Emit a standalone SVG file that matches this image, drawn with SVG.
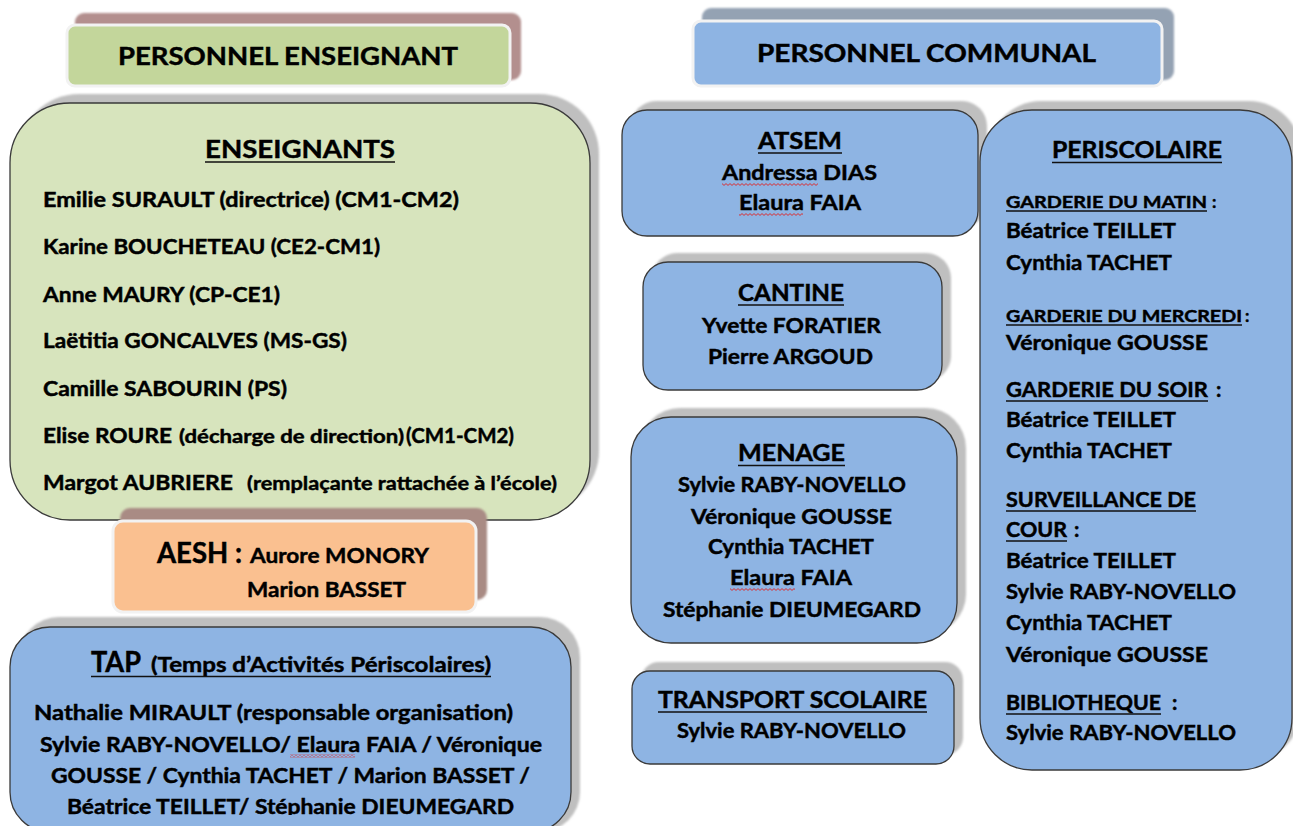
<svg xmlns="http://www.w3.org/2000/svg" width="1293" height="826" viewBox="0 0 1293 826">
<style>
.t{font-family:Lato,"Liberation Sans",sans-serif;font-weight:bold;fill:#000;stroke:#000;stroke-width:0.45;paint-order:stroke}
.s28{font-size:28px}.s25{font-size:25px}.s23{font-size:23px}.s21{font-size:21px}.s20{font-size:20.5px}.s19{font-size:19px}.s17{font-size:17px}
.ul{stroke:#111;stroke-width:1.6}
.box{stroke:#3a3a3a;stroke-width:1.3}
.blue{fill:#8eb4e3}
.gsh{fill:#bfbfbf}
.hb{stroke:#f2f2f2;stroke-width:3}
</style>
<defs>
<filter id="sb" x="-5%" y="-5%" width="110%" height="110%"><feGaussianBlur stdDeviation="1.2"/></filter>
<pattern id="sq" width="4" height="3" patternUnits="userSpaceOnUse"><path d="M0 2.4 L2 0.6 L4 2.4" fill="none" stroke="#e02020" stroke-width="0.9"/></pattern>
<clipPath id="tapclip"><rect x="0" y="600" width="620" height="215"/></clipPath>
</defs>
<rect width="1293" height="826" fill="#fff"/>

<g id="connectors"/>

<g id="personnel-enseignant">
<rect x="75" y="13" width="446" height="67" rx="9" fill="#b38f8e" filter="url(#sb)"/>
<rect x="67" y="25" width="443" height="61" rx="8" fill="#c3d69b" class="hb"/>
<text class="t s25" x="118" y="65" textLength="340" lengthAdjust="spacingAndGlyphs">PERSONNEL ENSEIGNANT</text>
</g>

<g id="personnel-communal">
<rect x="702" y="8" width="472" height="72" rx="9" fill="#94a2b3" filter="url(#sb)"/>
<rect x="693" y="21" width="469" height="65" rx="8" fill="#8eb4e3" class="hb"/>
<text class="t s25" x="757" y="62" textLength="339" lengthAdjust="spacingAndGlyphs">PERSONNEL COMMUNAL</text>
</g>

<g id="enseignants">
<rect x="19" y="94" width="580" height="417" rx="60" class="gsh" filter="url(#sb)"/>
<rect x="10" y="103" width="580" height="417" rx="60" fill="#d7e4bd" class="box"/>
<text class="t s25" x="205" y="158" textLength="190" lengthAdjust="spacingAndGlyphs">ENSEIGNANTS</text>
<line class="ul" x1="205" y1="162" x2="395" y2="162"/>
<text class="t s21" x="43" y="207" textLength="416" lengthAdjust="spacingAndGlyphs">Emilie SURAULT (directrice) (CM1-CM2)</text>
<text class="t s21" x="43" y="254" textLength="337" lengthAdjust="spacingAndGlyphs">Karine BOUCHETEAU  (CE2-CM1)</text>
<text class="t s21" x="43" y="302" textLength="237" lengthAdjust="spacingAndGlyphs">Anne MAURY (CP-CE1)</text>
<text class="t s21" x="43" y="348" textLength="304" lengthAdjust="spacingAndGlyphs">Laëtitia  GONCALVES (MS-GS)</text>
<text class="t s21" x="43" y="396" textLength="244" lengthAdjust="spacingAndGlyphs">Camille SABOURIN (PS)</text>
<text class="t s21" x="43" y="443" textLength="129" lengthAdjust="spacingAndGlyphs">Elise  ROURE</text>
<text class="t s19" x="179" y="443" textLength="225" lengthAdjust="spacingAndGlyphs">(décharge de direction)</text>
<text class="t s21" x="406" y="443" textLength="108" lengthAdjust="spacingAndGlyphs">(CM1-CM2)</text>
<text class="t s21" x="43" y="490" textLength="190" lengthAdjust="spacingAndGlyphs">Margot  AUBRIERE</text>
<text class="t s19" x="247" y="490" textLength="310" lengthAdjust="spacingAndGlyphs">(remplaçante rattachée à l’école)</text>
</g>

<g id="aesh">
<rect x="120" y="508" width="367" height="92" rx="10" fill="#a98b84" filter="url(#sb)"/>
<rect x="113" y="521" width="363" height="91" rx="10" fill="#fac090" class="hb"/>
<text class="t s28" x="157" y="563" textLength="85" lengthAdjust="spacingAndGlyphs">AESH :</text>
<text class="t s21" x="250" y="563" textLength="179" lengthAdjust="spacingAndGlyphs">Aurore MONORY</text>
<text class="t s21" x="247" y="597" textLength="159" lengthAdjust="spacingAndGlyphs">Marion BASSET</text>
</g>

<g id="tap">
<rect x="19" y="617" width="561" height="215" rx="40" class="gsh" filter="url(#sb)"/>
<rect x="10" y="627" width="561" height="205" rx="40" class="box blue"/>
<text class="t s28" x="91" y="672" textLength="50" lengthAdjust="spacingAndGlyphs">TAP</text>
<text class="t s20" x="151" y="672" textLength="340" lengthAdjust="spacingAndGlyphs">(Temps d’Activités Périscolaires)</text>
<line class="ul" x1="91" y1="676.5" x2="491" y2="676.5"/>
<text class="t s20" x="34" y="720" textLength="479" lengthAdjust="spacingAndGlyphs">Nathalie  MIRAULT (responsable  organisation)</text>
<text class="t s20" x="40" y="752" textLength="502" lengthAdjust="spacingAndGlyphs">Sylvie RABY-NOVELLO/  Elaura FAIA / Véronique</text>
<rect x="290" y="754.5" width="65" height="3" fill="url(#sq)"/>
<text class="t s20" x="51" y="783" textLength="479" lengthAdjust="spacingAndGlyphs">GOUSSE / Cynthia  TACHET / Marion BASSET /</text>
<text class="t s20" x="67" y="814" textLength="447" lengthAdjust="spacingAndGlyphs" clip-path="url(#tapclip)">Béatrice TEILLET/ Stéphanie  DIEUMEGARD</text>
</g>

<g id="atsem">
<rect x="631" y="101" width="356" height="126" rx="25" class="gsh" filter="url(#sb)"/>
<rect x="622" y="110" width="356" height="126" rx="25" class="box blue"/>
<text class="t s23" x="758" y="149" textLength="84" lengthAdjust="spacingAndGlyphs">ATSEM</text>
<line class="ul" x1="758" y1="153" x2="842" y2="153"/>
<text class="t s21" x="722" y="180" textLength="155" lengthAdjust="spacingAndGlyphs">Andressa  DIAS</text>
<rect x="722" y="183" width="96" height="3" fill="url(#sq)"/>
<text class="t s21" x="739" y="210" textLength="122" lengthAdjust="spacingAndGlyphs">Elaura  FAIA</text>
<rect x="739" y="213" width="64" height="3" fill="url(#sq)"/>
</g>

<g id="cantine">
<rect x="652" y="253" width="299" height="128" rx="25" class="gsh" filter="url(#sb)"/>
<rect x="643" y="262" width="299" height="128" rx="25" class="box blue"/>
<text class="t s23" x="738" y="301" textLength="106" lengthAdjust="spacingAndGlyphs">CANTINE</text>
<line class="ul" x1="738" y1="305" x2="844" y2="305"/>
<text class="t s21" x="702" y="333" textLength="179" lengthAdjust="spacingAndGlyphs">Yvette FORATIER</text>
<text class="t s21" x="708" y="364" textLength="165" lengthAdjust="spacingAndGlyphs">Pierre ARGOUD</text>
</g>

<g id="menage">
<rect x="640" y="408" width="326" height="226" rx="40" class="gsh" filter="url(#sb)"/>
<rect x="631" y="417" width="326" height="226" rx="40" class="box blue"/>
<text class="t s23" x="738" y="461" textLength="107" lengthAdjust="spacingAndGlyphs">MENAGE</text>
<line class="ul" x1="738" y1="465.5" x2="845" y2="465.5"/>
<text class="t s21" x="678" y="492" textLength="228" lengthAdjust="spacingAndGlyphs">Sylvie RABY-NOVELLO</text>
<text class="t s21" x="691" y="524" textLength="201" lengthAdjust="spacingAndGlyphs">Véronique  GOUSSE</text>
<text class="t s21" x="708" y="554" textLength="166" lengthAdjust="spacingAndGlyphs">Cynthia  TACHET</text>
<text class="t s21" x="730" y="585" textLength="122" lengthAdjust="spacingAndGlyphs">Elaura  FAIA</text>
<rect x="730" y="588" width="65" height="3" fill="url(#sq)"/>
<text class="t s21" x="663" y="617" textLength="258" lengthAdjust="spacingAndGlyphs">Stéphanie  DIEUMEGARD</text>
</g>

<g id="transport-scolaire">
<rect x="641" y="662" width="322" height="93" rx="18" class="gsh" filter="url(#sb)"/>
<rect x="632" y="671" width="322" height="93" rx="18" class="box blue"/>
<text class="t s23" x="658" y="708" textLength="269" lengthAdjust="spacingAndGlyphs">TRANSPORT SCOLAIRE</text>
<line class="ul" x1="658" y1="712" x2="927" y2="712"/>
<text class="t s21" x="677" y="738" textLength="229" lengthAdjust="spacingAndGlyphs">Sylvie RABY-NOVELLO</text>
</g>

<g id="periscolaire">
<rect x="989" y="101" width="312" height="660" rx="52" class="gsh" filter="url(#sb)"/>
<rect x="980" y="110" width="312" height="660" rx="52" class="box blue"/>
<text class="t s23" x="1052" y="158" textLength="170" lengthAdjust="spacingAndGlyphs">PERISCOLAIRE</text>
<line class="ul" x1="1052" y1="162.5" x2="1222" y2="162.5"/>
<text class="t s17" x="1006" y="208" textLength="201" lengthAdjust="spacingAndGlyphs">GARDERIE DU MATIN</text>
<line class="ul" x1="1006" y1="211" x2="1207" y2="211"/>
<text class="t s17" x="1212" y="208">:</text>
<text class="t s21" x="1006" y="238" textLength="170" lengthAdjust="spacingAndGlyphs">Béatrice TEILLET</text>
<text class="t s21" x="1006" y="270" textLength="166" lengthAdjust="spacingAndGlyphs">Cynthia  TACHET</text>
<text class="t s17" x="1006" y="322" textLength="236" lengthAdjust="spacingAndGlyphs">GARDERIE DU MERCREDI</text>
<line class="ul" x1="1006" y1="325" x2="1242" y2="325"/>
<text class="t s17" x="1245" y="322">:</text>
<text class="t s21" x="1006" y="350" textLength="202" lengthAdjust="spacingAndGlyphs">Véronique  GOUSSE</text>
<text class="t s21" x="1006" y="397" textLength="202" lengthAdjust="spacingAndGlyphs">GARDERIE  DU  SOIR</text>
<line class="ul" x1="1006" y1="401" x2="1208" y2="401"/>
<text class="t s21" x="1216" y="397">:</text>
<text class="t s21" x="1006" y="427" textLength="170" lengthAdjust="spacingAndGlyphs">Béatrice TEILLET</text>
<text class="t s21" x="1006" y="458" textLength="166" lengthAdjust="spacingAndGlyphs">Cynthia  TACHET</text>
<text class="t s21" x="1006" y="507" textLength="190" lengthAdjust="spacingAndGlyphs">SURVEILLANCE  DE</text>
<line class="ul" x1="1006" y1="511" x2="1196" y2="511"/>
<text class="t s21" x="1006" y="537" textLength="61" lengthAdjust="spacingAndGlyphs">COUR</text>
<line class="ul" x1="1006" y1="541" x2="1067" y2="541"/>
<text class="t s21" x="1074" y="537">:</text>
<text class="t s21" x="1006" y="568" textLength="170" lengthAdjust="spacingAndGlyphs">Béatrice TEILLET</text>
<text class="t s21" x="1006" y="599" textLength="230" lengthAdjust="spacingAndGlyphs">Sylvie RABY-NOVELLO</text>
<text class="t s21" x="1006" y="630" textLength="166" lengthAdjust="spacingAndGlyphs">Cynthia  TACHET</text>
<text class="t s21" x="1006" y="662" textLength="202" lengthAdjust="spacingAndGlyphs">Véronique  GOUSSE</text>
<text class="t s21" x="1006" y="710" textLength="155" lengthAdjust="spacingAndGlyphs">BIBLIOTHEQUE</text>
<line class="ul" x1="1006" y1="714" x2="1161" y2="714"/>
<text class="t s21" x="1172" y="710">:</text>
<text class="t s21" x="1006" y="740" textLength="230" lengthAdjust="spacingAndGlyphs">Sylvie RABY-NOVELLO</text>
</g>
</svg>
